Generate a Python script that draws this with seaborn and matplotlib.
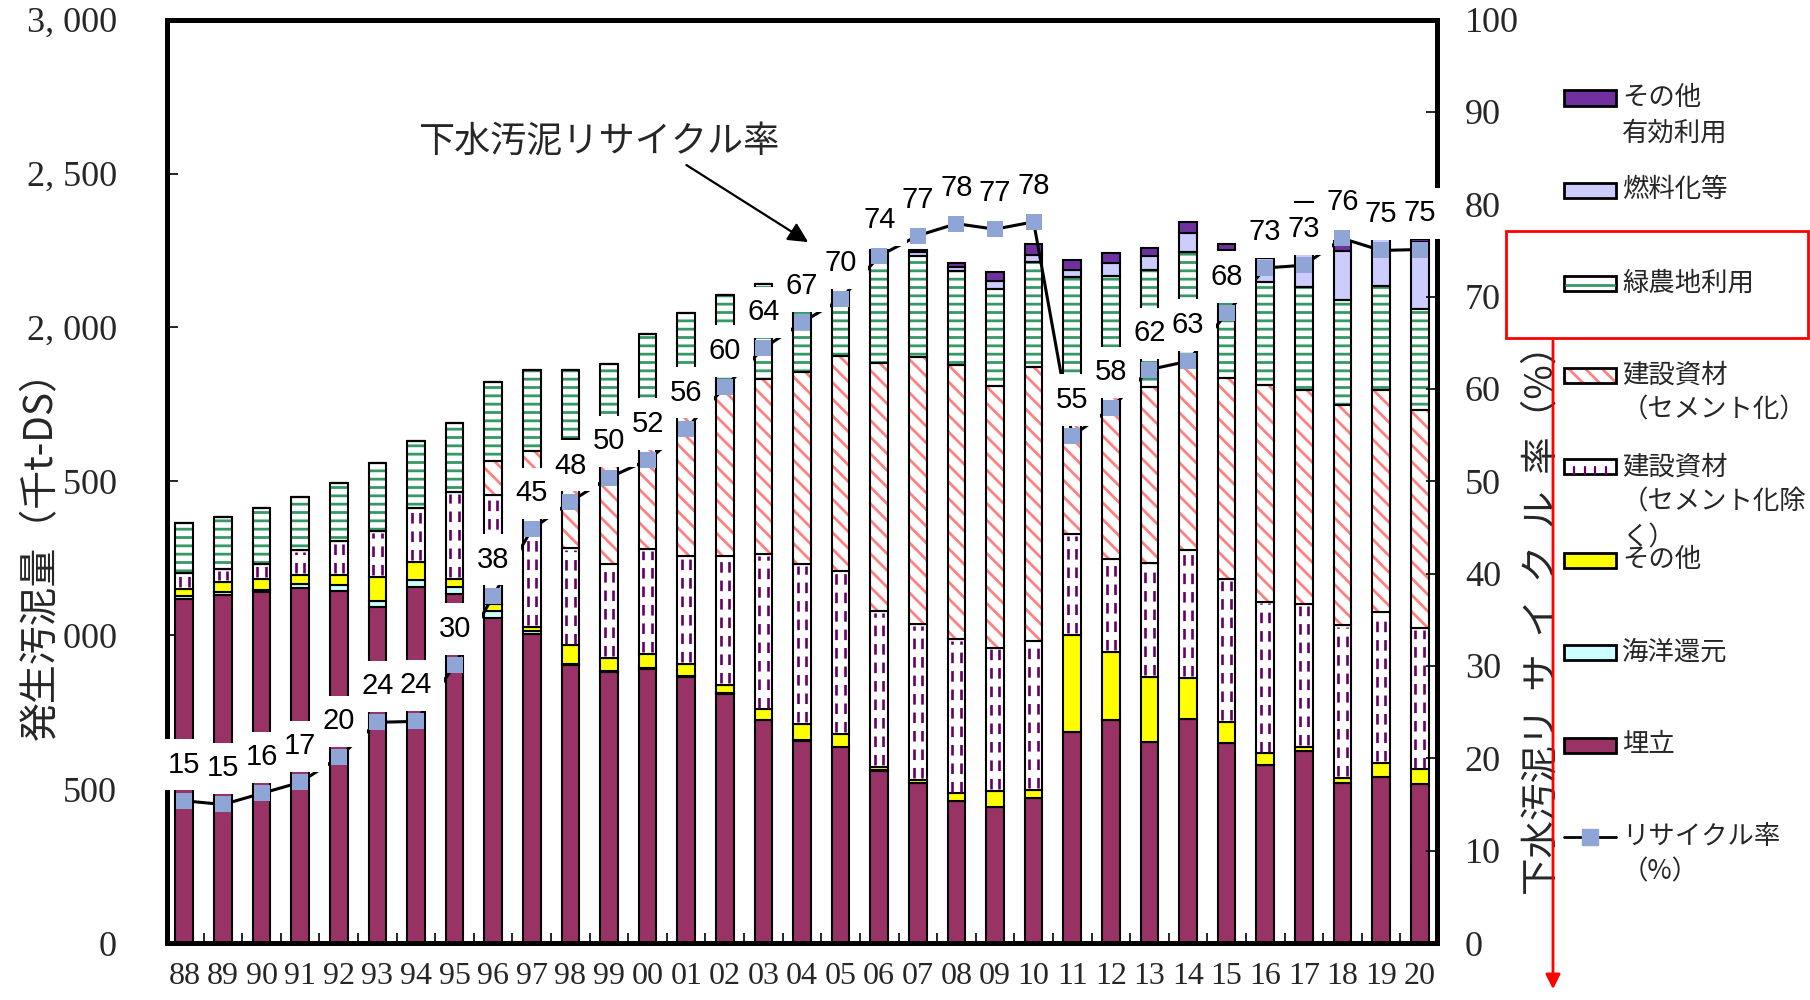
import numpy as np
import matplotlib
matplotlib.use("Agg")
import matplotlib.pyplot as plt
import seaborn as sns
from matplotlib.patches import Rectangle, FancyArrowPatch
from matplotlib.lines import Line2D

# ==============================
# DATA (千t-DS, %)
# ==============================

years = ["88", "89", "90", "91", "92", "93", "94", "95", "96", "97", "98", "99", "00",
         "01", "02", "03", "04", "05", "06", "07", "08", "09", "10", "11", "12", "13",
         "14", "15", "16", "17", "18", "19", "20"]

landfill = [1116, 1129, 1139, 1152, 1145, 1090, 1157, 1133, 1055, 1005, 902, 880, 891,
            865, 809, 724, 657, 636, 560, 519, 460, 443, 471, 684, 725, 652,
            728, 649, 579, 625, 519, 540, 517]
ocean = [10, 10, 9, 14, 18, 22, 23, 25, 25, 8, 5, 3, 3,
         3, 3, 2, 2, 2, 1, 1, 0, 0, 0, 0, 0, 0,
         0, 0, 0, 0, 0, 0, 0]
other = [25, 35, 36, 31, 32, 76, 58, 25, 20, 15, 60, 42, 46,
         38, 27, 33, 52, 40, 10, 10, 26, 52, 25, 316, 222, 213,
         132, 70, 37, 13, 17, 46, 47]
build_other = [52, 40, 48, 79, 110, 149, 176, 282, 354, 512, 316, 307, 341,
               350, 417, 504, 519, 530, 508, 506, 501, 465, 486, 328, 300, 371,
               416, 463, 493, 462, 498, 490, 459]
build_cement = [0, 0, 0, 0, 0, 0, 0, 0, 111, 57, 353, 408, 419,
                534, 569, 568, 626, 699, 804, 869, 890, 849, 888, 392, 553, 571,
                607, 652, 703, 696, 713, 722, 708]
green_use = [160, 171, 182, 173, 190, 222, 216, 225, 257, 264, 225, 240, 278,
             258, 280, 309, 209, 228, 362, 327, 307, 316, 342, 445, 367, 380,
             363, 366, 337, 336, 343, 336, 328]
fuel = [0, 0, 0, 0, 0, 0, 0, 0, 0, 0, 0, 0, 0,
        0, 0, 0, 0, 0, 5, 12, 13, 27, 22, 23, 41, 45,
        60, 50, 75, 258, 158, 161, 220]
other_use = [0, 0, 0, 0, 0, 0, 0, 0, 0, 0, 0, 0, 0,
             0, 0, 0, 0, 0, 0, 6, 11, 27, 36, 31, 33, 25,
             38, 20, 0, 16, 33, 5, 7]

rate = [15.4, 15.0, 16.2, 17.4, 20.1, 23.9, 24.0, 30.1, 37.6, 44.8, 47.8, 50.4, 52.3,
        55.7, 60.2, 64.4, 67.2, 69.7, 74.4, 76.6, 77.9, 77.3, 78.1, 54.9, 57.9, 62.1,
        63.0, 68.2, 73.1, 73.4, 76.3, 75.0, 75.1]

legend_labels = ["その他\n有効利用", "燃料化等", "緑農地利用", "建設資材\n（セメント化）",
                 "建設資材\n（セメント化除\nく）", "その他", "海洋還元", "埋立",
                 "リサイクル率\n（%）"]

# ==============================
# STYLE
# ==============================

C_LANDFILL = "#993366"
C_OCEAN = "#CCFFFF"
C_OTHER = "#FFFF00"
C_DASH = "#660066"
C_CEMENT = "#FF8080"
C_GREEN = "#339966"
C_FUEL = "#CCCCFF"
C_OTHUSE = "#7030A0"
C_MARK = "#8EA5D5"

sns.set_theme(style="white")
plt.rcParams["font.family"] = ["Noto Sans CJK JP", "DejaVu Sans"]
plt.rcParams["hatch.linewidth"] = 2.0

SERIF = ["Liberation Serif", "DejaVu Serif"]
SANS = ["Liberation Sans", "DejaVu Sans"]
EDGE = 1.5
W = 0.46

fig = plt.figure(figsize=(18.1, 10), dpi=100)
ax = fig.add_axes([167 / 1810, 1 - 943 / 1000, 1270 / 1810, 923.4 / 1000])

x = np.arange(len(years))

# ==============================
# STACKED BARS
# ==============================

sns.barplot(x=years, y=landfill, ax=ax, color=C_LANDFILL, width=W, edgecolor="black",
            linewidth=EDGE, saturation=1, errorbar=None, zorder=2)
bottom = np.array(landfill, dtype=float)


def plain(vals, color):
    global bottom
    vals = np.array(vals, dtype=float)
    ax.bar(x, vals, W, bottom=bottom, color=color, edgecolor="black", linewidth=EDGE, zorder=2)
    bottom = bottom + vals


def hatched(vals, hcolor, hatch):
    global bottom
    vals = np.array(vals, dtype=float)
    ax.bar(x, vals, W, bottom=bottom, facecolor="white", edgecolor=hcolor, hatch=hatch,
           linewidth=0, zorder=2)
    ax.bar(x, vals, W, bottom=bottom, fill=False, edgecolor="black", linewidth=EDGE, zorder=2.2)
    bottom = bottom + vals


plain(ocean, C_OCEAN)
plain(other, C_OTHER)

# construction material (non-cement): white with purple dashed lines
b_vals = np.array(build_other, dtype=float)
ax.bar(x, b_vals, W, bottom=bottom, facecolor="white", edgecolor="black", linewidth=EDGE, zorder=2)
m = b_vals > 0
for off in (-0.11, 0.11):
    ax.vlines(x[m] + off, bottom[m] + 6, bottom[m] + b_vals[m] - 6, colors=C_DASH,
              linestyles=(0, (4.0, 3.0)), linewidth=1.9, zorder=2.1)
bottom = bottom + b_vals

hatched(build_cement, C_CEMENT, "\\\\")
hatched(green_use, C_GREEN, "--")
plain(fuel, C_FUEL)
plain(other_use, C_OTHUSE)

ax.set_xlim(-0.45, len(years) - 0.55)
ax.set_ylim(0, 3000)
ax.set_xlabel("")
ax.set_xticks(x)
ax.set_xticklabels(years, fontsize=23, family=SERIF)
ax.set_xticks(x[:-1] + 0.5, minor=True)
ax.tick_params(axis="x", which="major", length=0, pad=14, bottom=True)
ax.tick_params(axis="x", which="minor", direction="in", length=7, width=1.2, bottom=True,
               color="black")

yt = np.arange(0, 3001, 500)
ax.set_yticks(yt)
ax.set_yticklabels([f"{v:,}".replace(",", ", ") for v in yt], fontsize=26, family=SERIF)
ax.tick_params(axis="y", direction="in", length=8, width=1.2, pad=36, left=True, color="black")

ax.set_ylabel("発生汚泥量（千t-DS）", fontsize=28,
              bbox=dict(facecolor="white", edgecolor="none", pad=0))
ax.yaxis.set_label_coords(-0.083, 0.43)

for s in ax.spines.values():
    s.set_linewidth(3.5)
    s.set_color("black")

# ==============================
# RECYCLING RATE LINE
# ==============================

ax2 = ax.twinx()
sns.lineplot(x=x, y=rate, ax=ax2, color="black", linewidth=2.2, zorder=3)
sns.scatterplot(x=x, y=rate, ax=ax2, marker="s", s=135, color=C_MARK, linewidth=0, zorder=6)

# white label boxes first, then the numbers on top of every box
for xi, r in zip(x, rate):
    ax2.annotate(f"{int(r + 0.5)}", (xi, r), xytext=(0, 26), textcoords="offset points",
                 ha="center", va="center", fontsize=21, family=SANS, color="none",
                 bbox=dict(boxstyle="square,pad=0.4", facecolor="white", edgecolor="none"),
                 zorder=5)
for xi, r in zip(x, rate):
    ax2.annotate(f"{int(r + 0.5)}", (xi, r), xytext=(0, 26), textcoords="offset points",
                 ha="center", va="center", fontsize=21, family=SANS, color="black", zorder=5.5)

ax2.set_ylim(0, 100)
ax2.set_yticks(np.arange(0, 101, 10))
ax2.set_yticklabels([str(v) for v in range(0, 101, 10)], fontsize=26, family=SERIF)
ax2.tick_params(axis="y", direction="in", length=8, width=1.2, pad=20, right=True, color="black")
ax2.set_ylabel("下水汚泥リ  サ  イ  ク  ル  率（%）", fontsize=27, rotation=90)
ax2.yaxis.set_label_coords(1.067, 0.36)
for s in ax2.spines.values():
    s.set_linewidth(3.5)
    s.set_color("black")

ax2.annotate("下水汚泥リサイクル率", xy=(16.16, 75.9), xytext=(10.72, 86.8),
             ha="center", va="center", fontsize=26,
             arrowprops=dict(arrowstyle="-|>", color="black", lw=1.6, mutation_scale=30,
                             relpos=(0.72, 0.0), shrinkA=3, shrinkB=0),
             zorder=7)

# ==============================
# LEGEND (drawn by hand)
# ==============================


def fx(px):
    return px / 1810


def fy(py):
    return 1 - py / 1000


rows_y = [98, 190, 283, 375, 467, 560, 652, 745, 837]
LX0, LX1, LH = 1564, 1616, 15
FS = 19
fs_px = FS * 100 / 72


def swatch(yc, face="white", hatch=None, hcolor=None):
    if hatch:
        fig.add_artist(Rectangle((fx(LX0), fy(yc + LH / 2)), (LX1 - LX0) / 1810, LH / 1000,
                                 transform=fig.transFigure, facecolor=face, edgecolor=hcolor,
                                 hatch=hatch, linewidth=0))
        fig.add_artist(Rectangle((fx(LX0), fy(yc + LH / 2)), (LX1 - LX0) / 1810, LH / 1000,
                                 transform=fig.transFigure, fill=False, edgecolor="black",
                                 linewidth=2))
    else:
        fig.add_artist(Rectangle((fx(LX0), fy(yc + LH / 2)), (LX1 - LX0) / 1810, LH / 1000,
                                 transform=fig.transFigure, facecolor=face, edgecolor="black",
                                 linewidth=2))


swatch(rows_y[0], C_OTHUSE)
swatch(rows_y[1], C_FUEL)
swatch(rows_y[2])
fig.add_artist(Line2D([fx(LX0 + 2), fx(LX1 - 2)], [fy(rows_y[2] + 2)] * 2,
                      transform=fig.transFigure, color=C_GREEN, lw=2))
swatch(rows_y[3], "white", "\\\\", C_CEMENT)
swatch(rows_y[4])
for k in range(1, 5):
    px = LX0 + k * (LX1 - LX0) / 5
    fig.add_artist(Line2D([fx(px), fx(px)], [fy(rows_y[4] + LH / 2), fy(rows_y[4])],
                          transform=fig.transFigure, color=C_DASH, lw=1.6))
swatch(rows_y[5], C_OTHER)
swatch(rows_y[6], C_OCEAN)
swatch(rows_y[7], C_LANDFILL)
fig.add_artist(Line2D([fx(LX0), fx(LX1)], [fy(rows_y[8])] * 2, transform=fig.transFigure,
                      color="black", lw=2))
fig.add_artist(Line2D([fx((LX0 + LX1) / 2)], [fy(rows_y[8])], transform=fig.transFigure,
                      marker="s", markersize=11, color=C_MARK, lw=0))

for yc, lab in zip(rows_y, legend_labels):
    fig.text(fx(1622), fy(yc - 0.52 * fs_px), lab, fontsize=FS, va="top", ha="left",
             linespacing=1.4)

# red highlight box and arrow
fig.add_artist(Rectangle((fx(1506), fy(338)), 302 / 1810, 107 / 1000, transform=fig.transFigure,
                         fill=False, edgecolor="red", linewidth=2))
fig.add_artist(FancyArrowPatch((fx(1553), fy(338)), (fx(1553), fy(992)),
                               transform=fig.transFigure, arrowstyle="-|>", mutation_scale=22,
                               color="red", lw=2))

fig.savefig("out.png", dpi=100)
